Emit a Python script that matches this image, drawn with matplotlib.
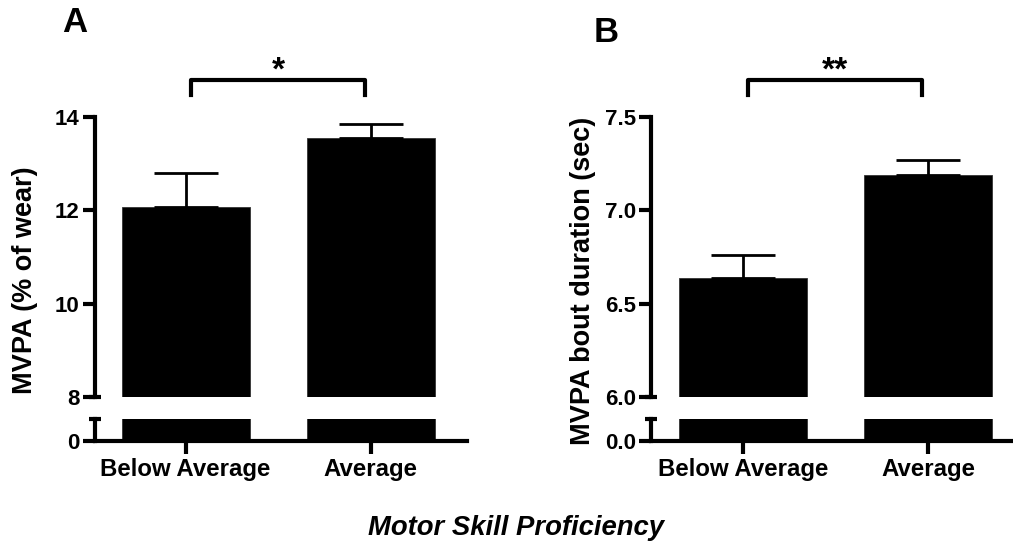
import numpy as np
import matplotlib.pyplot as plt

plt.rcParams['font.family'] = ['Liberation Sans', 'DejaVu Sans']
plt.rcParams['font.weight'] = 'bold'

# data
groups = ["Below Average", "Average"]
mvpa_mean = [12.07, 13.56]
mvpa_err = [0.72, 0.28]
bout_mean = [6.64, 7.19]
bout_err = [0.12, 0.08]

W, H = 1013, 544

def box(left, top, right, bottom):
	return [left / W, (H - bottom) / H, (right - left) / W, (bottom - top) / H]

# draws one broken-axis bar panel
def panel(fig, left, right, xlim, ylim, ticks, zero_label, means, errs, stars, tick_fmt):
	x = np.arange(len(groups))
	up = fig.add_axes(box(left, 117, right, 397))
	lo = fig.add_axes(box(left, 419, right, 441))
	for ax in (up, lo):
		ax.bar(x, means, width=0.69, color='black', edgecolor='#333333', linewidth=0.6)
		ax.set_xlim(xlim)
		for s in ['top', 'right']:
			ax.spines[s].set_visible(False)
		ax.spines['left'].set_linewidth(3)
		ax.spines['bottom'].set_linewidth(3)
		ax.tick_params(axis='both', width=3, length=9, labelsize=16, pad=2)
	# error bars (upper only)
	up.errorbar(x, means, yerr=[np.zeros(len(errs)), errs], fmt='none', ecolor='black',
		elinewidth=2, capsize=23, capthick=2)
	up.set_ylim(ylim)
	up.set_yticks(ticks)
	up.set_yticklabels([tick_fmt.format(t) for t in ticks])
	up.spines['bottom'].set_visible(False)
	up.set_xticks([])
	lo.set_ylim(0, 1)
	lo.set_yticks([0])
	lo.set_yticklabels([zero_label])
	lo.set_xticks(x)
	lo.set_xticklabels(groups, fontsize=17.3)
	lo.tick_params(axis='x', pad=3)
	# break marks
	d = 6.0 / (right - left)
	up.plot([-d, d], [0, 0], transform=up.transAxes, color='black', lw=3, clip_on=False, solid_capstyle='butt')
	lo.plot([-d, d], [1, 1], transform=lo.transAxes, color='black', lw=3, clip_on=False, solid_capstyle='butt')
	# significance bracket
	trans = up.get_xaxis_transform()
	up.plot([x[0] + 0.03, x[0] + 0.03, x[1] - 0.03, x[1] - 0.03], [1.079, 1.132, 1.132, 1.079],
		transform=trans, color='black', lw=3, clip_on=False)
	up.text(np.mean(x), 1.132, stars, transform=trans, ha='center', va='baseline',
		fontsize=24, fontweight='bold')
	return up, lo

fig = plt.figure(figsize=(W / 100, H / 100), dpi=100)

panel(fig, 95, 467, (-0.49, 1.52), (8, 14), [8, 10, 12, 14], "0",
	mvpa_mean, mvpa_err, "*", "{:d}")
panel(fig, 651, 1013, (-0.497, 1.46), (6.0, 7.5), [6.0, 6.5, 7.0, 7.5], "0.0",
	bout_mean, bout_err, "**", "{:.1f}")

# labels
fig.text(25 / W, 1 - 280 / H, "MVPA (% of wear)", rotation=90, ha='center', va='center', fontsize=19.5)
fig.text(583 / W, 1 - 281 / H, "MVPA bout duration (sec)", rotation=90, ha='center', va='center', fontsize=19.5)
fig.text(75 / W, 1 - 23 / H, "A", ha='center', va='center', fontsize=25)
fig.text(606 / W, 1 - 32 / H, "B", ha='center', va='center', fontsize=25)
fig.text(516 / W, 1 - 528 / H, "Motor Skill Proficiency", ha='center', va='center',
	fontsize=19.8, style='italic')

plt.savefig('out.png', dpi=100)
